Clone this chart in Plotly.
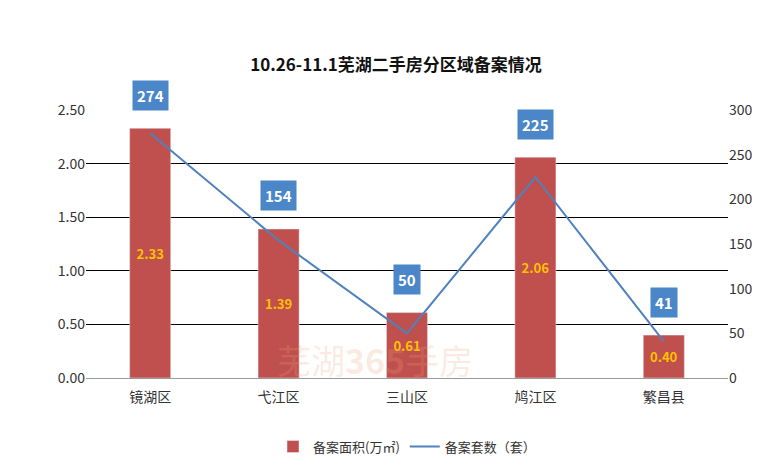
import plotly.graph_objects as go

categories = ["镜湖区", "弋江区", "三山区", "鸠江区", "繁昌县"]
area = [2.33, 1.39, 0.61, 2.06, 0.40]
units = [274, 154, 50, 225, 41]

fig = go.Figure()
fig.add_trace(go.Bar(x=categories, y=area, name="备案面积(万㎡)", marker_color="#C0504D",
                     width=0.32, text=[f"{v:.2f}" for v in area], textposition="inside",
                     insidetextanchor="middle", textfont=dict(color="#FFC000", size=13),
                     texttemplate="<b>%{text}</b>"))
fig.add_trace(go.Scatter(x=categories, y=units, name="备案套数（套）", yaxis="y2", mode="lines",
                         line=dict(color="#4F81BD", width=2)))
for c, u, a in zip(categories, units, area):
    top = max(u, a * 120)
    fig.add_annotation(x=c, y=top, yref="y2", text=f"<b>{u}</b>", showarrow=False, yshift=33,
                       bgcolor="#4A86C8", font=dict(color="white", size=15), borderpad=4)
fig.add_annotation(x=1.75, y=0.17, text="芜湖<b>365</b>手房", showarrow=False,
                   font=dict(size=34, color="rgba(235,160,120,0.22)"))
fig.update_layout(
    width=776, height=466, paper_bgcolor="white", plot_bgcolor="white",
    font=dict(family="Noto Sans CJK SC", size=14, color="#333"),
    title=dict(text="<b>10.26-11.1芜湖二手房分区域备案情况</b>", x=0.5, y=0.89, font=dict(size=17, color="#111")),
    margin=dict(l=78, r=56, t=102, b=90),
    bargap=0.6,
    xaxis=dict(showline=True, linecolor="#999", tickfont=dict(size=14), ticks="outside",
               ticklen=6, tickcolor="white"),
    yaxis=dict(range=[0, 2.5], dtick=0.5, tickformat=".2f", gridcolor="black", showline=False,
               tickfont=dict(size=14)),
    yaxis2=dict(range=[0, 300], dtick=50, overlaying="y", side="right", showgrid=False,
                tickfont=dict(size=14)),
    legend=dict(orientation="h", x=0.5, xanchor="center", y=-0.2, font=dict(size=13)),
)
fig.write_html("out.html")
